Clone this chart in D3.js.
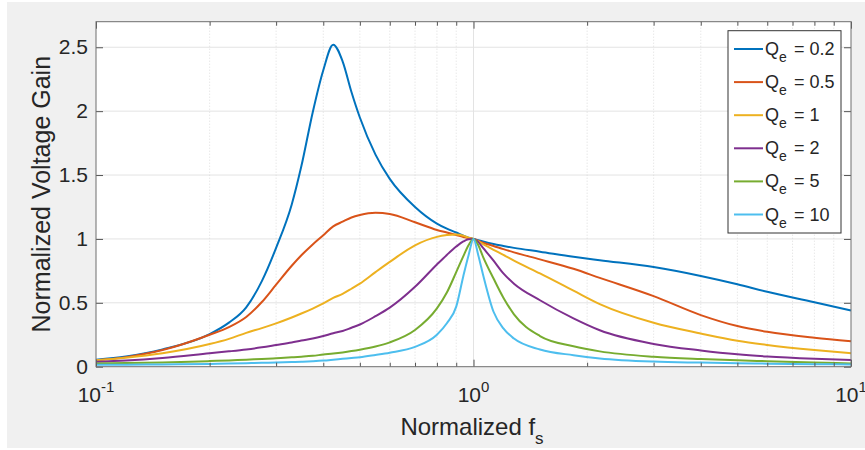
<!DOCTYPE html>
<html>
<head>
<meta charset="utf-8">
<script src="https://cdn.jsdelivr.net/npm/d3@7"></script>
<style>
  html, body { margin: 0; padding: 0; background: #fff; }
  svg { display: block; font-family: "Liberation Sans", Arial, sans-serif; }
</style>
</head>
<body>
<div id="chart"></div>
<script>
// normalized switching frequency (shared x values)
const freq = [0.1, 0.12, 0.15, 0.2, 0.225, 0.25, 0.275, 0.3, 0.33, 0.35, 0.375, 0.4, 0.425, 0.45, 0.475, 0.5, 0.55, 0.6,
  0.7, 0.8, 0.85, 0.9, 0.94, 0.97, 1, 1.03, 1.06, 1.13, 1.2, 1.28, 1.5, 1.84, 2.16, 3, 4, 5, 6, 8, 10];

// gain, one array per Qe
const gainQ02 = [0.055, 0.08, 0.135, 0.255, 0.345, 0.465, 0.67, 0.93, 1.27, 1.57, 1.99, 2.32, 2.52, 2.39, 2.15, 1.95, 1.66, 1.47,
  1.25, 1.12, 1.08, 1.05, 1.025, 1.01, 1.0, 0.99, 0.98, 0.96, 0.945, 0.93, 0.9, 0.86, 0.833, 0.78, 0.71, 0.645, 0.586, 0.505, 0.44];
const gainQ05 = [0.05, 0.075, 0.13, 0.25, 0.31, 0.389, 0.506, 0.642, 0.79, 0.872, 0.957, 1.029, 1.098, 1.135, 1.168, 1.187, 1.204, 1.195,
  1.13, 1.07, 1.05, 1.03, 1.015, 1.005, 1.0, 0.985, 0.97, 0.945, 0.92, 0.895, 0.84, 0.766, 0.695, 0.552, 0.404, 0.318, 0.273, 0.227, 0.2];
const gainQ1 = [0.05, 0.07, 0.105, 0.177, 0.218, 0.265, 0.302, 0.339, 0.385, 0.416, 0.455, 0.495, 0.538, 0.57, 0.61, 0.65, 0.74, 0.82,
  0.95, 1.016, 1.03, 1.035, 1.025, 1.01, 1.0, 0.98, 0.96, 0.915, 0.875, 0.83, 0.73, 0.595, 0.49, 0.344, 0.26, 0.203, 0.17, 0.13, 0.105];
const gainQ2 = [0.038, 0.048, 0.068, 0.105, 0.12, 0.135, 0.152, 0.17, 0.19, 0.205, 0.22, 0.24, 0.262, 0.279, 0.305, 0.33, 0.395, 0.462,
  0.625, 0.8, 0.875, 0.94, 0.98, 0.997, 1.0, 0.975, 0.93, 0.83, 0.73, 0.65, 0.52, 0.378, 0.285, 0.178, 0.127, 0.097, 0.08, 0.062, 0.052];
const gainQ5 = [0.025, 0.028, 0.033, 0.044, 0.049, 0.055, 0.06, 0.066, 0.073, 0.078, 0.085, 0.095, 0.103, 0.112, 0.122, 0.133, 0.158, 0.19,
  0.287, 0.456, 0.58, 0.74, 0.865, 0.95, 1.0, 0.95, 0.86, 0.69, 0.54, 0.41, 0.24, 0.16, 0.12, 0.078, 0.06, 0.05, 0.043, 0.033, 0.026];
const gainQ10 = [0.015, 0.016, 0.018, 0.022, 0.0245, 0.027, 0.03, 0.032, 0.036, 0.039, 0.043, 0.048, 0.055, 0.062, 0.068, 0.074, 0.092, 0.11,
  0.155, 0.25, 0.34, 0.47, 0.71, 0.87, 1.0, 0.87, 0.72, 0.43, 0.3, 0.22, 0.135, 0.09, 0.065, 0.04, 0.032, 0.027, 0.024, 0.02, 0.018];

const qLabels = ["0.2", "0.5", "1", "2", "5", "10"];
const series = [gainQ02, gainQ05, gainQ1, gainQ2, gainQ5, gainQ10];
const colors = ["#0072BD", "#D95319", "#EDB120", "#7E2F8E", "#77AC30", "#4DBEEE"];

const xMajor = [0.1, 1, 10];
const xMajorExp = ["-1", "0", "1"];
const xMinor = [0.2, 0.3, 0.4, 0.5, 0.6, 0.7, 0.8, 0.9, 2, 3, 4, 5, 6, 7, 8, 9];
const yTicks = [0, 0.5, 1, 1.5, 2, 2.5];

const W = 865, H = 450;
const pl = 96, pr = 851, pt = 21.7, pb = 366.7;
const textColor = "#262626";

const svg = d3.select("#chart").append("svg").attr("width", W).attr("height", H);

// figure background
svg.append("rect").attr("x", 7).attr("y", 2).attr("width", W - 7).attr("height", H - 4).attr("fill", "#f0f0f0");
svg.append("rect").attr("x", pl).attr("y", pt).attr("width", pr - pl).attr("height", pb - pt).attr("fill", "#fff");

const x = d3.scaleLog().domain([0.1, 10]).range([pl, pr]);
const y = d3.scaleLinear().domain([0, 2.7]).range([pb, pt]);

// grid
svg.append("g").selectAll("line").data(yTicks.slice(1)).join("line")
  .attr("x1", pl).attr("x2", pr).attr("y1", d => y(d)).attr("y2", d => y(d))
  .attr("stroke", "#e3e3e3").attr("stroke-width", 1);
svg.append("g").selectAll("line").data(xMinor).join("line")
  .attr("x1", d => x(d)).attr("x2", d => x(d)).attr("y1", pt).attr("y2", pb)
  .attr("stroke", "#d6d6d6").attr("stroke-width", 0.8).attr("stroke-dasharray", "1,2");
svg.append("line").attr("x1", x(1)).attr("x2", x(1)).attr("y1", pt).attr("y2", pb)
  .attr("stroke", "#e3e3e3").attr("stroke-width", 1);

// curves
const line = d3.line()
  .x((d, i) => x(freq[i]))
  .y(d => y(d))
  .curve(d3.curveMonotoneX);

svg.append("g").selectAll("path").data(series).join("path")
  .attr("fill", "none")
  .attr("stroke", (d, i) => colors[i])
  .attr("stroke-width", 2)
  .attr("stroke-linejoin", "round")
  .attr("d", line);

// ticks (inward, all four sides)
function noDomain(g) { g.select(".domain").remove(); g.selectAll(".tick line").attr("stroke", "#555"); }

svg.append("g").attr("transform", `translate(0,${pb})`)
  .call(d3.axisBottom(x).tickValues(xMajor).tickSize(-7).tickFormat("")).call(noDomain);
svg.append("g").attr("transform", `translate(0,${pb})`)
  .call(d3.axisBottom(x).tickValues(xMinor).tickSize(-4).tickFormat("")).call(noDomain);
svg.append("g").attr("transform", `translate(0,${pt})`)
  .call(d3.axisTop(x).tickValues(xMajor).tickSize(-7).tickFormat("")).call(noDomain);
svg.append("g").attr("transform", `translate(0,${pt})`)
  .call(d3.axisTop(x).tickValues(xMinor).tickSize(-4).tickFormat("")).call(noDomain);

svg.append("g").attr("transform", `translate(${pl},0)`)
  .call(d3.axisLeft(y).tickValues(yTicks).tickSize(-7).tickPadding(8).tickFormat(d3.format("")))
  .call(noDomain)
  .call(g => g.selectAll("text").attr("font-size", 21).attr("fill", textColor)
    .attr("font-family", "Liberation Sans, Arial, sans-serif"));
svg.append("g").attr("transform", `translate(${pr},0)`)
  .call(d3.axisRight(y).tickValues(yTicks).tickSize(-7).tickFormat("")).call(noDomain);

// x tick labels 10^n
const xl = svg.append("g").attr("fill", textColor).attr("font-size", 21).attr("text-anchor", "middle");
xMajor.forEach((v, i) => {
  const t = xl.append("text").attr("x", x(v)).attr("y", 402);
  t.append("tspan").text("10");
  t.append("tspan").attr("font-size", 15).attr("dy", -10).text(xMajorExp[i]);
});

// box
svg.append("rect").attr("x", pl).attr("y", pt).attr("width", pr - pl).attr("height", pb - pt)
  .attr("fill", "none").attr("stroke", "#6e6e6e").attr("stroke-width", 1);

// axis labels
const xt = svg.append("text").attr("x", 472).attr("y", 435).attr("text-anchor", "middle")
  .attr("font-size", 24).attr("fill", textColor);
xt.append("tspan").text("Normalized f");
xt.append("tspan").attr("font-size", 17).attr("dy", 9).text("s");

svg.append("text")
  .attr("transform", `translate(50,${(pt + pb) / 2}) rotate(-90)`)
  .attr("text-anchor", "middle").attr("font-size", 25).attr("fill", textColor)
  .text("Normalized Voltage Gain");

// legend
const lg = svg.append("g");
lg.append("rect").attr("x", 728).attr("y", 30.7).attr("width", 113).attr("height", 202.3)
  .attr("fill", "#fff").attr("stroke", "#333").attr("stroke-width", 1);
qLabels.forEach((q, i) => {
  const by = 55 + i * 33.1;
  lg.append("line").attr("x1", 734).attr("x2", 763).attr("y1", by - 6).attr("y2", by - 6)
    .attr("stroke", colors[i]).attr("stroke-width", 2);
  const t = lg.append("text").attr("x", 765).attr("y", by).attr("font-size", 18).attr("fill", textColor);
  t.append("tspan").text("Q");
  t.append("tspan").attr("font-size", 14).attr("dy", 7).text("e");
  t.append("tspan").attr("x", 794).attr("dy", -7).text("= " + q);
});
</script>
</body>
</html>
